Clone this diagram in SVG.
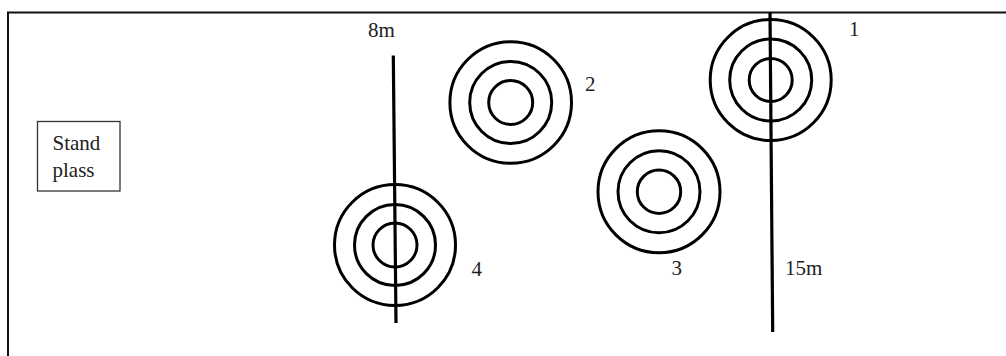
<svg xmlns="http://www.w3.org/2000/svg" width="1006" height="356" viewBox="0 0 1006 356">
<style>
.ring{fill:none;stroke:#000;stroke-width:3}
.pole{stroke:#000;stroke-width:3.2;stroke-linecap:butt}
.lbl{font-family:"Liberation Serif",serif;font-size:21px;fill:#222}
.frame{fill:none;stroke:#111;stroke-width:2}
</style>
<rect width="1006" height="356" fill="#fff"/>
<path class="frame" d="M8 356 V12.5 H1006"/>
<g id="stand">
<rect x="37.5" y="121.5" width="82.5" height="69.5" fill="#fff" stroke="#333" stroke-width="1.3"/>
<text class="lbl" x="52.5" y="150">Stand</text>
<text class="lbl" x="52.5" y="177">plass</text>
</g>
<g id="connectors">
<line class="pole" x1="393.3" y1="55.5" x2="396" y2="323"/>
<line class="pole" x1="770" y1="12.5" x2="772.7" y2="332"/>
</g>
<g id="target1">
<circle class="ring" cx="770.7" cy="80" r="60.5"/>
<circle class="ring" cx="770.7" cy="80" r="41"/>
<circle class="ring" cx="770.7" cy="80" r="21.5"/>
<text class="lbl" x="849" y="36">1</text>
</g>
<g id="target2">
<circle class="ring" cx="510.7" cy="102.5" r="60.8"/>
<circle class="ring" cx="510.7" cy="102.5" r="41"/>
<circle class="ring" cx="510.7" cy="102.5" r="22"/>
<text class="lbl" x="585" y="91">2</text>
</g>
<g id="target3">
<circle class="ring" cx="659" cy="191.7" r="61"/>
<circle class="ring" cx="659" cy="191.7" r="41"/>
<circle class="ring" cx="659" cy="191.7" r="21.7"/>
<text class="lbl" x="671.5" y="275">3</text>
</g>
<g id="target4">
<circle class="ring" cx="395" cy="245" r="60.5"/>
<circle class="ring" cx="395" cy="245" r="40.5"/>
<circle class="ring" cx="395" cy="245" r="22"/>
<text class="lbl" x="471.5" y="276">4</text>
</g>
<g id="labels">
<text class="lbl" x="368" y="37">8m</text>
<text class="lbl" x="785" y="275">15m</text>
</g>
</svg>
